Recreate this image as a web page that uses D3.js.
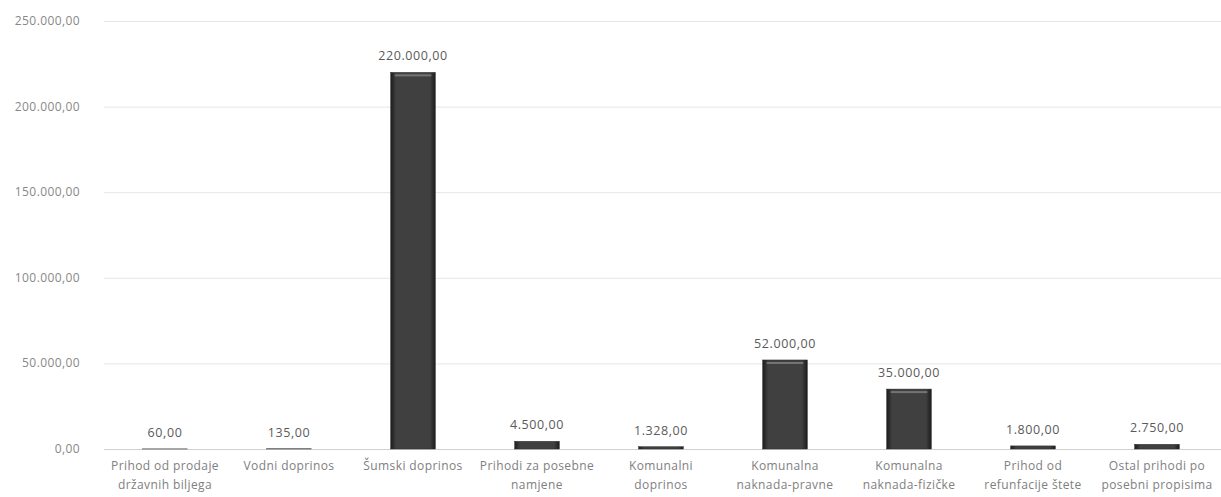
<!DOCTYPE html>
<html><head><meta charset="utf-8">
<script src="https://cdn.jsdelivr.net/npm/d3@7"></script>
<style>body{margin:0;background:#fff}svg{display:block}text{font-family:"Open Sans","Noto Sans",sans-serif}</style>
</head><body><svg id="c" width="1221" height="497"></svg>
<script>
const categories = [["Prihod od prodaje","državnih biljega"],["Vodni doprinos"],["Šumski doprinos"],["Prihodi za posebne","namjene"],["Komunalni","doprinos"],["Komunalna","naknada-pravne"],["Komunalna","naknada-fizičke"],["Prihod od","refunfacije štete"],["Ostal prihodi po","posebni propisima"]];
const values = [60,135,220000,4500,1328,52000,35000,1800,2750];
const yTicks = [0,50000,100000,150000,200000,250000];

const svg = d3.select("#c");
const x = d3.scaleBand().domain(d3.range(values.length)).range([103,1219]).paddingInner(0.64).paddingOuter(0.32);
const y = d3.scaleLinear().domain([0,250000]).range([449,21]);
const fmt = v => d3.format(",.2f")(v).replace(/,/g,"X").replace(/\./g,",").replace(/X/g,".");
const data = values.map((v,i)=>({v,i}));

const defs = svg.append("defs");
const g = defs.append("linearGradient").attr("id","bg").attr("x1",0).attr("x2",1);
g.append("stop").attr("offset","0").attr("stop-color","#1c1c1c");
g.append("stop").attr("offset","0.12").attr("stop-color","#404040");
g.append("stop").attr("offset","0.88").attr("stop-color","#404040");
g.append("stop").attr("offset","1").attr("stop-color","#1c1c1c");

svg.append("g").selectAll("line").data(yTicks).join("line")
  .attr("x1",104).attr("x2",1221).attr("y1",d=>y(d)+0.5).attr("y2",d=>y(d)+0.5)
  .attr("stroke",d=>d===0?"#d0d0d0":"#e6e6e6").attr("stroke-width",1);

svg.append("g").selectAll("text").data(yTicks).join("text")
  .attr("x",80).attr("y",d=>y(d)+4).attr("text-anchor","end").attr("font-size",12)
  .attr("letter-spacing",0.4).attr("fill","#888").text(fmt);

const bars = svg.append("g").selectAll("g").data(data).join("g");
bars.append("rect").attr("x",d=>x(d.i)).attr("width",x.bandwidth())
  .attr("y",d=>y(d.v)).attr("height",d=>Math.max(0,y(0)-y(d.v)))
  .attr("fill","url(#bg)").attr("stroke","#2a2a2a").attr("stroke-width",0.5);
bars.filter(d=>y(0)-y(d.v)>8).append("rect").attr("x",d=>x(d.i)+4).attr("width",x.bandwidth()-8)
  .attr("y",d=>y(d.v)+2).attr("height",2).attr("fill","#8a8a8a").attr("opacity",0.7);

svg.append("g").selectAll("text").data(data).join("text")
  .attr("x",d=>x(d.i)+x.bandwidth()/2).attr("y",d=>y(d.v)-12)
  .attr("text-anchor","middle").attr("font-size",12.5).attr("letter-spacing",0.6)
  .attr("fill","#5a5a5a").text(d=>fmt(d.v));

const lab = svg.append("g").selectAll("text").data(categories).join("text")
  .attr("text-anchor","middle").attr("font-size",12).attr("letter-spacing",0.4).attr("fill","#808080")
  .attr("transform",(d,i)=>`translate(${x(i)+x.bandwidth()/2},470)`);
lab.selectAll("tspan").data(d=>d).join("tspan").attr("x",0).attr("dy",(d,j)=>j?19:0).text(d=>d);
</script></body></html>
